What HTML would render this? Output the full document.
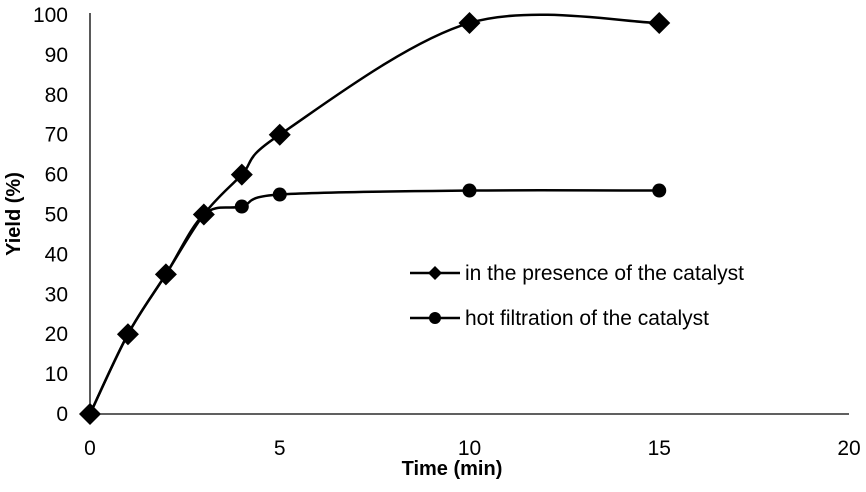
<!DOCTYPE html>
<html><head><meta charset="utf-8"><style>
body{margin:0;background:#fff;}
svg text{font-family:"Liberation Sans",sans-serif;fill:#000;}
</style></head><body>
<svg id="chart" width="866" height="487" xmlns="http://www.w3.org/2000/svg"></svg>
<script>
const times = [0, 1, 2, 3, 4, 5, 10, 15];
const catalystYield = [0, 20, 35, 50, 60, 70, 98, 98];
const filtrationYield = [0, 20, 35, 50, 52, 55, 56, 56];
const xTicks = [0, 5, 10, 15, 20];
const yTicks = [0, 10, 20, 30, 40, 50, 60, 70, 80, 90, 100];

const svg = document.getElementById('chart');
const NS = 'http://www.w3.org/2000/svg';
const X0 = 90, X1 = 849, Y0 = 414, Y1 = 15;
const xs = v => X0 + (v / 20) * (X1 - X0);
const ys = v => Y0 - (v / 100) * (Y0 - Y1);
function mk(tag, attrs, parent) {
  const e = document.createElementNS(NS, tag);
  for (const k in attrs) e.setAttribute(k, attrs[k]);
  (parent || svg).appendChild(e);
  return e;
}
let el;
el = mk('line', {x1: X0, y1: 13, x2: X0, y2: Y0, stroke: '#000', 'stroke-width': 1.3});


el = mk('line', {x1: X0, y1: Y0, x2: X1, y2: Y0, stroke: '#000', 'stroke-width': 1.3});


yTicks.forEach(t => {
  const e = mk('text', {x: 68, y: ys(t) + 7, 'text-anchor': 'end', 'font-size': 21});
  e.textContent = t;
  
  
});
xTicks.forEach(t => {
  const e = mk('text', {x: xs(t), y: 455, 'text-anchor': 'middle', 'font-size': 21});
  e.textContent = t;
  
  
});
el = mk('text', {x: 452, y: 475, 'text-anchor': 'middle', 'font-size': 20, 'font-weight': 'bold'});
el.textContent = 'Time (min)';


el = mk('text', {x: 0, y: 0, 'text-anchor': 'middle', 'font-size': 20, 'font-weight': 'bold', transform: 'translate(20,214) rotate(-90)'});
el.textContent = 'Yield (%)';



function smoothPath(px, py) {
  const P = px.map((x, i) => [xs(x), ys(py[i])]);
  let d = 'M' + P[0][0] + ',' + P[0][1];
  for (let i = 0; i < P.length - 1; i++) {
    const p0 = P[Math.max(0, i - 1)], p1 = P[i], p2 = P[i + 1], p3 = P[Math.min(P.length - 1, i + 2)];
    const t = 1 / 6;
    const c1 = [p1[0] + (p2[0] - p0[0]) * t, p1[1] + (p2[1] - p0[1]) * t];
    const c2 = [p2[0] - (p3[0] - p1[0]) * t, p2[1] - (p3[1] - p1[1]) * t];
    d += ' C' + c1 + ' ' + c2 + ' ' + p2;
  }
  return d;
}
el = mk('path', {d: smoothPath(times, filtrationYield), fill: 'none', stroke: '#000', 'stroke-width': 2.5});


el = mk('path', {d: smoothPath(times, catalystYield), fill: 'none', stroke: '#000', 'stroke-width': 2.5});


times.forEach((t, i) => {
  const e = mk('circle', {cx: xs(t), cy: ys(filtrationYield[i]), r: 7, fill: '#000'});
  
  
});
function diamond(cx, cy, s) {
  return `${cx},${cy - s} ${cx + s},${cy} ${cx},${cy + s} ${cx - s},${cy}`;
}
times.forEach((t, i) => {
  const e = mk('polygon', {points: diamond(xs(t), ys(catalystYield[i]), 11), fill: '#000'});
  
  
});
const lg = mk('g', {});


el = mk('line', {x1: 410, y1: 273, x2: 460, y2: 273, stroke: '#000', 'stroke-width': 2.5}, lg);


el = mk('polygon', {points: diamond(435, 273, 7), fill: '#000'}, lg);


el = mk('text', {x: 465, y: 280, 'font-size': 21}, lg);
el.textContent = 'in the presence of the catalyst';


el = mk('line', {x1: 410, y1: 318, x2: 460, y2: 318, stroke: '#000', 'stroke-width': 2.5}, lg);


el = mk('circle', {cx: 435, cy: 318, r: 6, fill: '#000'}, lg);


el = mk('text', {x: 465, y: 325, 'font-size': 21}, lg);
el.textContent = 'hot filtration of the catalyst';


</script>
</body></html>
